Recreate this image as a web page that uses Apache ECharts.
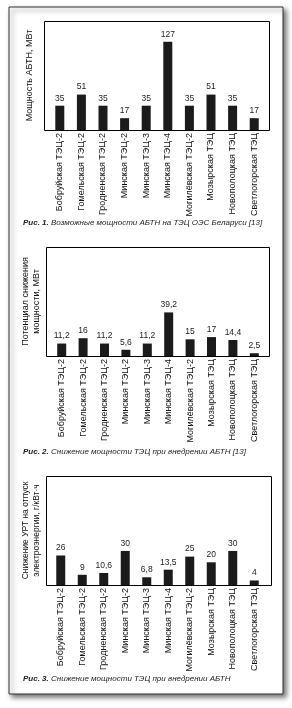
<!DOCTYPE html>
<html><head><meta charset="utf-8">
<script src="https://cdn.jsdelivr.net/npm/echarts@6/dist/echarts.min.js"></script>
<style>html,body{margin:0;padding:0;background:#fff}#c{width:292px;height:708px}</style>
</head><body><div id="c"></div>
<script>
const categories1 = ['Бобруйская ТЭЦ-2','Гомельская ТЭЦ-2','Гродненская ТЭЦ-2','Минская ТЭЦ-2','Минская ТЭЦ-3','Минская ТЭЦ-4','Могилёвская ТЭЦ-2','Мозырская ТЭЦ','Новополоцкая ТЭЦ','Светлогорская ТЭЦ'];
const values1 = [35, 51, 35, 17, 35, 127, 35, 51, 35, 17];
const categories2 = ['Бобруйская ТЭЦ-2','Гомельская ТЭЦ-2','Гродненская ТЭЦ-2','Минская ТЭЦ-2','Минская ТЭЦ-3','Минская ТЭЦ-4','Могилёвская ТЭЦ-2','Мозырская ТЭЦ','Новополоцкая ТЭЦ','Светлогорская ТЭЦ'];
const values2 = [11.2, 16, 11.2, 5.6, 11.2, 39.2, 15, 17, 14.4, 2.5];
const categories3 = ['Бобруйская ТЭЦ-2','Гомельская ТЭЦ-2','Гродненская ТЭЦ-2','Минская ТЭЦ-2','Минская ТЭЦ-3','Минская ТЭЦ-4','Могилёвская ТЭЦ-2','Мозырская ТЭЦ','Новополоцкая ТЭЦ','Светлогорская ТЭЦ'];
const values3 = [26, 9, 10.6, 30, 6.8, 13.5, 25, 20, 30, 4];
const yNames = ['Мощность АБТН, МВт', 'Потенциал снижения\nмощности, МВт', 'Снижение УРТ на отпуск\nэлектроэнергии, г/кВт·ч'];
const captions = [
  ['Рис. 1.', ' Возможные мощности АБТН на ТЭЦ ОЭС Беларуси [13]'],
  ['Рис. 2.', ' Снижение мощности ТЭЦ при внедрении АБТН [13]'],
  ['Рис. 3.', ' Снижение мощности ТЭЦ при внедрении АБТН']
];
const yMax = [157, 98, 96];

const FONT = "'Liberation Sans Narrow', 'Liberation Sans', sans-serif";
const chart = echarts.init(document.getElementById('c'), null, {renderer: 'canvas'});

const grids = [
  {left: 49, top: 21, width: 216, height: 109},
  {left: 51, top: 247, width: 214, height: 109},
  {left: 50, top: 476, width: 215, height: 109}
];
const boxes = [
  {x: 44, y: 21, w: 225, h: 109},
  {x: 46, y: 247, w: 223, h: 109},
  {x: 46, y: 476, w: 225, h: 109}
];
const cats = [categories1, categories2, categories3];
const vals = [values1, values2, values3];
const nameGaps = [14, 9, 8];
const nameSizes = [9, 9, 8.5];
const capTops = [219, 448, 675];

const fmt = v => String(v).replace('.', ',');

const option = {
  animation: false,
  backgroundColor: '#fff',
  title: captions.map((c, i) => ({
    text: '{b|' + c[0] + '}{n|' + c[1] + '}',
    left: 23, top: capTops[i], padding: 0,
    textStyle: {
      fontWeight: 'normal',
      rich: {
        b: {fontFamily: FONT, fontSize: 8, fontStyle: 'italic', fontWeight: 'bold', color: '#222'},
        n: {fontFamily: FONT, fontSize: 8, fontStyle: 'italic', fontWeight: 'normal', color: '#222'}
      }
    }
  })),
  grid: grids.map(g => Object.assign({containLabel: false}, g)),
  xAxis: cats.map((c, i) => ({
    type: 'category', gridIndex: i, data: c,
    axisLine: {show: false}, axisTick: {show: false},
    axisLabel: {rotate: 90, margin: 3, fontFamily: FONT, fontSize: 9, color: '#111', interval: 0}
  })),
  yAxis: yNames.map((n, i) => ({
    type: 'value', gridIndex: i, min: 0, max: yMax[i],
    axisLabel: {show: false}, axisTick: {show: false}, axisLine: {show: false},
    splitLine: {show: false},
    name: n, nameLocation: 'middle', nameGap: nameGaps[i],
    nameTextStyle: {fontFamily: FONT, fontSize: nameSizes[i], color: '#111', lineHeight: 11}
  })),
  series: vals.map((v, i) => ({
    type: 'bar', xAxisIndex: i, yAxisIndex: i, data: v,
    barWidth: 9,
    itemStyle: {color: '#1b1b1b'},
    label: {show: true, position: 'top', distance: 3, formatter: p => fmt(p.value),
      fontFamily: FONT, fontSize: 8.5, color: '#222'}
  })),
  graphic: [
    {type: 'rect', z: -10, shape: {x: 9, y: 7, width: 274, height: 687},
      style: {fill: '#fff', stroke: '#333', lineWidth: 1, shadowBlur: 5, shadowColor: 'rgba(0,0,0,0.55)', shadowOffsetX: 3, shadowOffsetY: 3}}
  ].concat(boxes.map(b => ({
    type: 'rect', z: 10, shape: {x: b.x + 0.5, y: b.y + 0.5, width: b.w, height: b.h},
    style: {fill: 'none', stroke: '#000', lineWidth: 1}
  })))
};
chart.setOption(option);
</script></body></html>
